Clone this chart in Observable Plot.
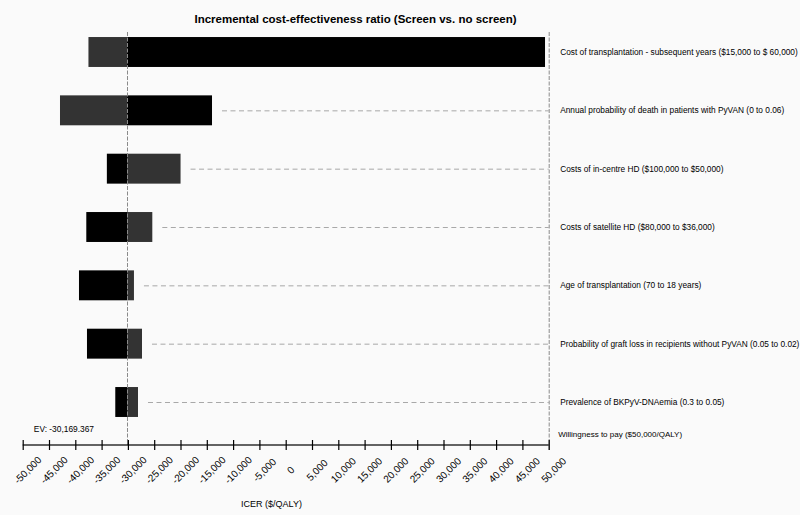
<!DOCTYPE html>
<html><head><meta charset="utf-8">
<script src="https://cdn.jsdelivr.net/npm/d3@7"></script>
<script src="https://cdn.jsdelivr.net/npm/@observablehq/plot@0.6"></script>
<style>html,body{margin:0;padding:0;background:#fafafa;} svg{display:block} #chart{width:800px}</style>
</head><body><div id="chart"></div>
<script>
const title = "Incremental cost-effectiveness ratio (Screen vs. no screen)";
const parameters = [
  "Cost of transplantation - subsequent years ($15,000 to $ 60,000)",
  "Annual probability of death in patients with PyVAN (0 to 0.06)",
  "Costs of in-centre HD ($100,000 to $50,000)",
  "Costs of satellite HD ($80,000 to $36,000)",
  "Age of transplantation (70 to 18 years)",
  "Probability of graft loss in recipients without PyVAN (0.05 to 0.02)",
  "Prevalence of BKPyV-DNAemia (0.3 to 0.05)"
];
const blackEnds = [49300, -14010, -34000, -37910, -39300, -37780, -32400];
const grayEnds  = [-37500, -42910, -19990, -25360, -28850, -27320, -28080];
const ev = -30169.367;
const evLabel = "EV: -30,169.367";
const wtpLabel = "Willingness to pay ($50,000/QALY)";
const wtp = 50000;
const xTicks = [-50000,-45000,-40000,-35000,-30000,-25000,-20000,-15000,-10000,-5000,0,5000,10000,15000,20000,25000,30000,35000,40000,45000,50000];
const xLabel = "ICER ($/QALY)";

const rows = parameters.map((p, i) => ({param: p, black: blackEnds[i], gray: grayEnds[i], maxEnd: Math.max(blackEnds[i], grayEnds[i])}));
const fmt = d => d.toLocaleString("en-US");
const font = "'Liberation Sans', Arial, Helvetica, sans-serif";
const xScale = {domain: [xTicks[0], xTicks[xTicks.length - 1]], axis: null};
const side = {width: 800, marginLeft: 22.7, marginRight: 251.3};

// Main panel: bars, reference lines, labels (top 440 px)
const main = Plot.plot({
  ...side, height: 440, marginTop: 32, marginBottom: 0,
  style: {background: "#fafafa", fontFamily: font, color: "#000", overflow: "visible"},
  x: xScale,
  y: {domain: parameters, range: [22.83, 431.17], padding: 0, round: false, axis: null},
  marks: [
    Plot.ruleY(rows.filter(d => d.maxEnd < 45000), {y: "param", x1: "maxEnd", x2: wtp, insetLeft: 10, stroke: "#a8a8a8", strokeDasharray: "5,3.5"}),
    Plot.barX(rows, {y: "param", x1: ev, x2: "gray", fill: "#333", insetTop: 14.2, insetBottom: 14.2}),
    Plot.barX(rows, {y: "param", x1: ev, x2: "black", fill: "#000", insetTop: 14.2, insetBottom: 14.2}),
    Plot.ruleX([ev], {stroke: "#8a8a8a", strokeDasharray: "4,1.5"}),
    Plot.ruleX([wtp], {stroke: "#8a8a8a", strokeDasharray: "4,1.5"}),
    Plot.text(rows, {y: "param", text: "param", frameAnchor: "right", textAnchor: "start", dx: 11, fontSize: 8.3}),
    Plot.text([title], {frameAnchor: "top-left", dx: 332.3, dy: -17.5, textAnchor: "middle", fontSize: 11.5, fontWeight: "bold"}),
    Plot.text([evLabel], {frameAnchor: "bottom-left", dx: 10.6, dy: -8.5, textAnchor: "start", fontSize: 8.4}),
    Plot.text([wtpLabel], {frameAnchor: "bottom-right", dx: 9, dy: -3.5, textAnchor: "start", fontSize: 8})
  ]
});

// Axis strip: axis line, tick marks, continuation of the reference lines (12 px)
const axisStrip = Plot.plot({
  ...side, height: 12, marginTop: 0, marginBottom: 0,
  style: {background: "#fafafa", overflow: "visible"},
  x: xScale,
  marks: [
    Plot.ruleX([ev], {stroke: "#8a8a8a", insetBottom: 7}),
    Plot.ruleX([wtp], {stroke: "#8a8a8a", insetBottom: 2}),
    Plot.rect([0], {x1: xTicks[0], x2: xTicks[xTicks.length - 1], insetTop: 4.4, insetBottom: 6.4, fill: "#000"}),
    Plot.tickX(xTicks, {x: d => d, insetTop: 0, insetBottom: 2, stroke: "#000", strokeWidth: 1.2})
  ]
});

// Tick labels and axis title (bottom 63 px)
const labelStrip = Plot.plot({
  ...side, height: 63, marginTop: 0, marginBottom: 0,
  style: {background: "#fafafa", fontFamily: font, color: "#000", overflow: "visible"},
  x: xScale,
  marks: [
    Plot.text(xTicks, {x: d => d, text: fmt, frameAnchor: "top", rotate: -45, textAnchor: "middle", dy: 15, dx: 2, fontSize: 10}),
    Plot.text([xLabel], {frameAnchor: "top", dx: -14.7, dy: 48.5, textAnchor: "middle", fontSize: 9})
  ]
});

const host = document.getElementById("chart");
host.appendChild(main);
host.appendChild(axisStrip);
host.appendChild(labelStrip);
</script>
</body></html>
